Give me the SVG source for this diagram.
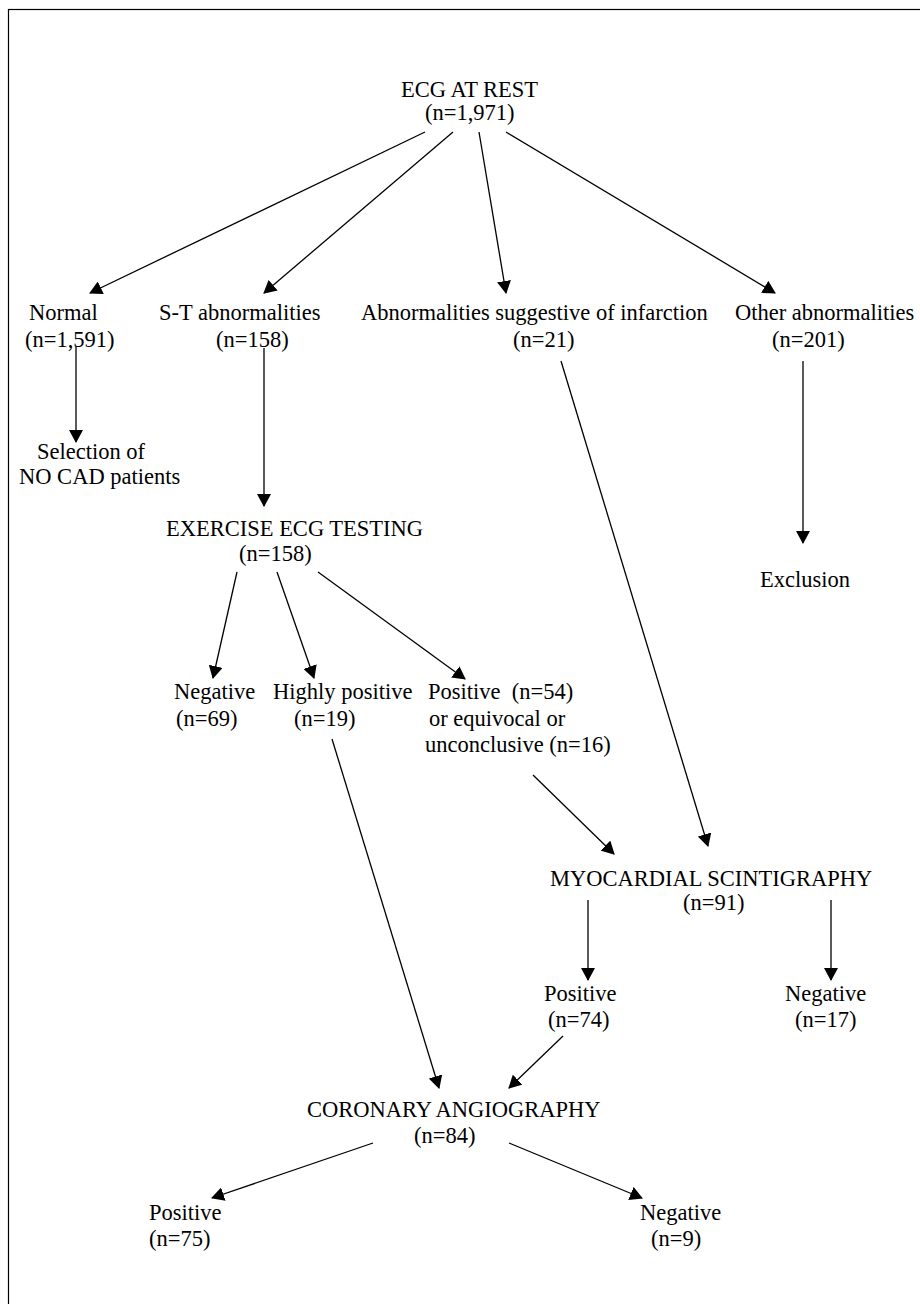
<svg xmlns="http://www.w3.org/2000/svg" width="920" height="1304" viewBox="0 0 920 1304">
<style>
text { font-family: "Liberation Serif", "Times New Roman", serif; font-size: 22.5px; fill: #000; white-space: pre; }
.c line { stroke: #000; stroke-width: 1.3; marker-end: url(#arr); }
.frame { fill: none; stroke: #000; stroke-width: 1.2; }
</style>
<defs>
<marker id="arr" viewBox="0 0 13 14" refX="12" refY="7" markerWidth="13" markerHeight="14" markerUnits="userSpaceOnUse" orient="auto">
<path d="M0,0 L13,7 L0,14 z" fill="#000"/>
</marker>
</defs>
<rect class="frame" x="8.5" y="9.5" width="1000" height="1400"/>
<g id="ecg-rest"><text x="401" y="97">ECG AT REST</text><text x="425" y="120">(n=1,971)</text></g>
<g id="normal"><text x="29" y="320">Normal</text><text x="25" y="347">(n=1,591)</text></g>
<g id="st"><text x="159" y="320">S-T abnormalities</text><text x="216" y="347">(n=158)</text></g>
<g id="infarction"><text x="361" y="320">Abnormalities suggestive of infarction</text><text x="513" y="347">(n=21)</text></g>
<g id="other"><text x="735" y="320">Other abnormalities</text><text x="772" y="347">(n=201)</text></g>
<g id="selection"><text x="37" y="459">Selection of</text><text x="19" y="484">NO CAD patients</text></g>
<g id="exercise"><text x="166" y="536">EXERCISE ECG TESTING</text><text x="239" y="561">(n=158)</text></g>
<g id="exclusion"><text x="760" y="587">Exclusion</text></g>
<g id="ex-negative"><text x="174" y="699">Negative</text><text x="176" y="726">(n=69)</text></g>
<g id="ex-highly"><text x="273" y="699">Highly positive</text><text x="294" y="726">(n=19)</text></g>
<g id="ex-positive"><text x="428" y="699">Positive  (n=54)</text><text x="429" y="726">or equivocal or</text><text x="425" y="752">unconclusive (n=16)</text></g>
<g id="scinti"><text x="550" y="886">MYOCARDIAL SCINTIGRAPHY</text><text x="683" y="910">(n=91)</text></g>
<g id="sc-positive"><text x="544" y="1001">Positive</text><text x="548" y="1027">(n=74)</text></g>
<g id="sc-negative"><text x="785" y="1001">Negative</text><text x="795" y="1027">(n=17)</text></g>
<g id="angio"><text x="307" y="1117">CORONARY ANGIOGRAPHY</text><text x="414" y="1143">(n=84)</text></g>
<g id="an-positive"><text x="149" y="1220">Positive</text><text x="149" y="1246">(n=75)</text></g>
<g id="an-negative"><text x="640" y="1220">Negative</text><text x="651" y="1246">(n=9)</text></g>
<g id="connectors" class="c">
<line x1="425" y1="132" x2="90" y2="293"/>
<line x1="453" y1="132" x2="264" y2="293"/>
<line x1="479" y1="132" x2="506" y2="293"/>
<line x1="506" y1="132" x2="775" y2="293"/>
<line x1="76" y1="347" x2="76" y2="442"/>
<line x1="264" y1="348" x2="264" y2="506"/>
<line x1="803" y1="361" x2="803" y2="543"/>
<line x1="561" y1="361" x2="708" y2="846"/>
<line x1="237" y1="572" x2="213" y2="678"/>
<line x1="277" y1="572" x2="314" y2="678"/>
<line x1="318" y1="572" x2="465" y2="679"/>
<line x1="533" y1="775" x2="614" y2="854"/>
<line x1="588" y1="900" x2="588" y2="980"/>
<line x1="831" y1="900" x2="831" y2="980"/>
<line x1="332" y1="739" x2="439" y2="1088"/>
<line x1="563" y1="1036" x2="509" y2="1088"/>
<line x1="373" y1="1143" x2="212" y2="1198"/>
<line x1="509" y1="1143" x2="642" y2="1198"/>
</g>
</svg>
